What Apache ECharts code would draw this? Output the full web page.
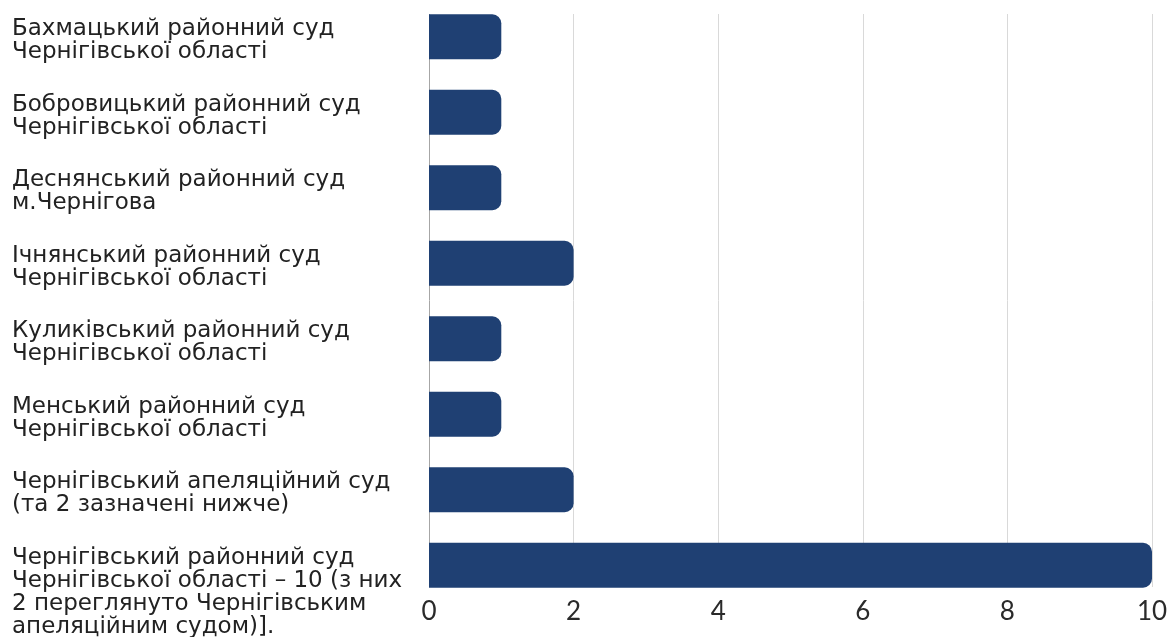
<!DOCTYPE html>
<html>
<head>
<meta charset="utf-8">
<script src="https://cdn.jsdelivr.net/npm/echarts@6/dist/echarts.min.js"></script>
<style>html,body{margin:0;padding:0;background:#fff}#c{width:1169px;height:637px}</style>
</head>
<body>
<div id="c"></div>
<script>
const categories = [
  "Бахмацький районний суд\nЧернігівської області",
  "Бобровицький районний суд\nЧернігівської області",
  "Деснянський районний суд\nм.Чернігова",
  "Ічнянський районний суд\nЧернігівської області",
  "Куликівський районний суд\nЧернігівської області",
  "Менський районний суд\nЧернігівської області",
  "Чернігівський апеляційний суд\n(та 2 зазначені нижче)",
  "Чернігівський районний суд\nЧернігівської області – 10 (з них\n2 переглянуто Чернігівським\nапеляційним судом)]."
];
const values = [1, 1, 1, 2, 1, 1, 2, 10];
const xMin = 0, xMax = 10, xInterval = 2;

const labelFont = 'DejaVu Sans';
const chart = echarts.init(document.getElementById('c'));
chart.setOption({
  animation: false,
  grid: [
    { left: 429, right: 17, top: -1, height: 604, outerBoundsMode: 'none', containLabel: false },
    { left: 429, right: 17, top: 14, height: 573, outerBoundsMode: 'none', containLabel: false },
    { left: 429, right: 17, top: 3, height: 604, outerBoundsMode: 'none', containLabel: false }
  ],
  xAxis: [
    { gridIndex: 0, type: 'value', min: xMin, max: xMax, interval: xInterval, show: false },
    { gridIndex: 1, type: 'value', min: xMin, max: xMax, interval: xInterval,
      axisLine: { show: false }, axisTick: { show: false },
      splitLine: { show: true, lineStyle: { color: ['#a6a6a6', '#d9d9d9', '#d9d9d9', '#d9d9d9', '#d9d9d9', '#d9d9d9'], width: 1 } },
      axisLabel: { margin: 12, fontFamily: 'Lato', fontSize: 26, color: '#2a2a2a', fontWeight: 'normal' } },
    { gridIndex: 2, type: 'value', min: xMin, max: xMax, show: false }
  ],
  yAxis: [
    { gridIndex: 0, type: 'category', data: categories, inverse: true, show: false },
    { gridIndex: 1, type: 'value', show: false },
    { gridIndex: 2, type: 'category', data: categories, inverse: true,
      axisLine: { show: false }, axisTick: { show: false }, splitLine: { show: false },
      axisLabel: { align: 'left', margin: 417, interval: 0, fontFamily: labelFont, fontSize: 23, lineHeight: 23, color: '#222',
        formatter: (v, i) => i === categories.length - 1 ? '\n\n' + v : v } }
  ],
  series: [{
    type: 'bar', xAxisIndex: 0, yAxisIndex: 0, data: values, barWidth: 45,
    itemStyle: { color: '#1f4073', borderRadius: [0, 9, 9, 0] }
  }]
});
</script>
</body>
</html>
